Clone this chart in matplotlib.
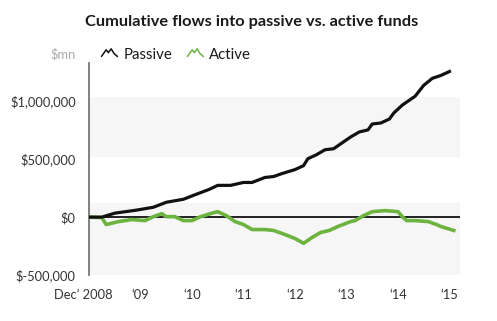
import matplotlib.pyplot as plt
from matplotlib.path import Path
from matplotlib.lines import Line2D
from matplotlib.patches import Rectangle
import matplotlib.transforms as mtransforms

plt.rcParams['font.family'] = ['Lato', 'DejaVu Sans']

# months since Dec 2008, cumulative flows in $mn
passive_months = [0, 3, 6, 11, 15, 18, 22, 25, 28, 30, 33, 36, 38, 41, 43, 45, 48, 50,
                  51, 53, 55, 57, 59, 61, 63, 65, 66, 68, 70, 71, 73, 76, 78, 80, 82, 84]
passive = [0, 0, 34000, 60000, 85000, 128000, 154000, 197000, 239000, 274000, 274000,
           299000, 299000, 342000, 350000, 376000, 410000, 444000, 504000, 538000,
           581000, 590000, 641000, 692000, 735000, 752000, 803000, 812000, 846000,
           897000, 966000, 1043000, 1137000, 1197000, 1222000, 1256000]

active_months = [0, 3, 4, 7, 10, 13, 15, 17, 18, 20, 22, 24, 26, 29, 30, 32, 34, 36, 38,
                 41, 43, 45, 48, 50, 52, 54, 56, 58, 61, 62, 64, 66, 69, 72, 73, 74, 76,
                 79, 81, 82, 85]
active = [0, -4000, -64000, -38000, -21000, -30000, 4000, 30000, 4000, 4000, -30000,
          -30000, 4000, 38000, 47000, 13000, -38000, -64000, -107000, -107000, -115000,
          -141000, -184000, -226000, -175000, -132000, -115000, -81000, -38000, -30000,
          13000, 47000, 56000, 47000, 4000, -30000, -30000, -38000, -64000, -81000,
          -115000]

year_ticks = [0, 12, 24, 36, 48, 60, 72, 84]
year_labels = ["Dec\u2019 2008", "\u201809", "\u201810", "\u201811", "\u201812",
               "\u201813", "\u201814", "\u201815"]
value_ticks = [-500000, 0, 500000, 1000000]
value_labels = ["$-500,000", "$0", "$500,000", "$1,000,000"]

black = "#111111"
green = "#6cb33f"
text_color = "#333333"

fig = plt.figure(figsize=(4.97, 3.21), dpi=100)
ax = fig.add_axes([0.179, 0.143, 0.747, 0.661])

ax.set_xlim(0, 86.5)
ax.set_ylim(-500000, 1330000)

# alternating background bands
band = "#f6f6f6"
ax.add_patch(Rectangle((0, 518000), 86.5, 518000, color=band, lw=0, zorder=0))
ax.add_patch(Rectangle((0, -500000), 86.5, 621000, color=band, lw=0, zorder=0))

ax.axhline(0, color=black, lw=1.3, zorder=1)

ax.plot(active_months, active, color=green, lw=2.6, solid_joinstyle='round', zorder=2)
ax.plot(passive_months, passive, color=black, lw=2.3, solid_joinstyle='round', zorder=3)

for side in ['top', 'right', 'bottom']:
    ax.spines[side].set_visible(False)
ax.spines['left'].set_color('#777777')
ax.spines['left'].set_linewidth(1.3)

ax.set_yticks(value_ticks)
ax.set_yticklabels(value_labels)
ax.set_xticks(year_ticks)
ax.set_xticklabels(year_labels)
ax.tick_params(axis='both', length=0, labelsize=9.3, labelcolor=text_color)
ax.tick_params(axis='y', pad=9.5)
ax.tick_params(axis='x', pad=10)

# nudge the first year label left
first = ax.get_xticklabels()[0]
first.set_transform(first.get_transform() +
                    mtransforms.ScaledTranslation(-6 / 100, 0, fig.dpi_scale_trans))

fig.text(0.506, 0.93, "Cumulative flows into passive vs. active funds",
         ha='center', va='center', fontsize=11.8, fontweight='bold', color='#1a1a1a')
fig.text(0.153, 0.83, "$mn", ha='right', va='center', fontsize=9.3, color='#aaaaaa')

# small mountain glyph for the legend keys (centred so the marker sits on the text)
zigzag = Path([(-0.5, -0.2), (-0.2, 0.22), (-0.07, 0.05), (0.1, 0.28), (0.27, 0.0),
               (0.5, -0.2)])
handles = [
    Line2D([], [], linestyle='none', marker=zigzag, markersize=12,
           markerfacecolor='none', markeredgecolor=black, markeredgewidth=1.1),
    Line2D([], [], linestyle='none', marker=zigzag, markersize=12,
           markerfacecolor='none', markeredgecolor=green, markeredgewidth=1.1),
]
fig.legend(handles, ["Passive", "Active"], loc='center left',
           bbox_to_anchor=(0.175, 0.83), ncol=2, frameon=False, fontsize=10.8,
           handlelength=1.2, handletextpad=0.35, columnspacing=0.9,
           labelcolor='#1a1a1a')

fig.savefig("out.png", dpi=100)
